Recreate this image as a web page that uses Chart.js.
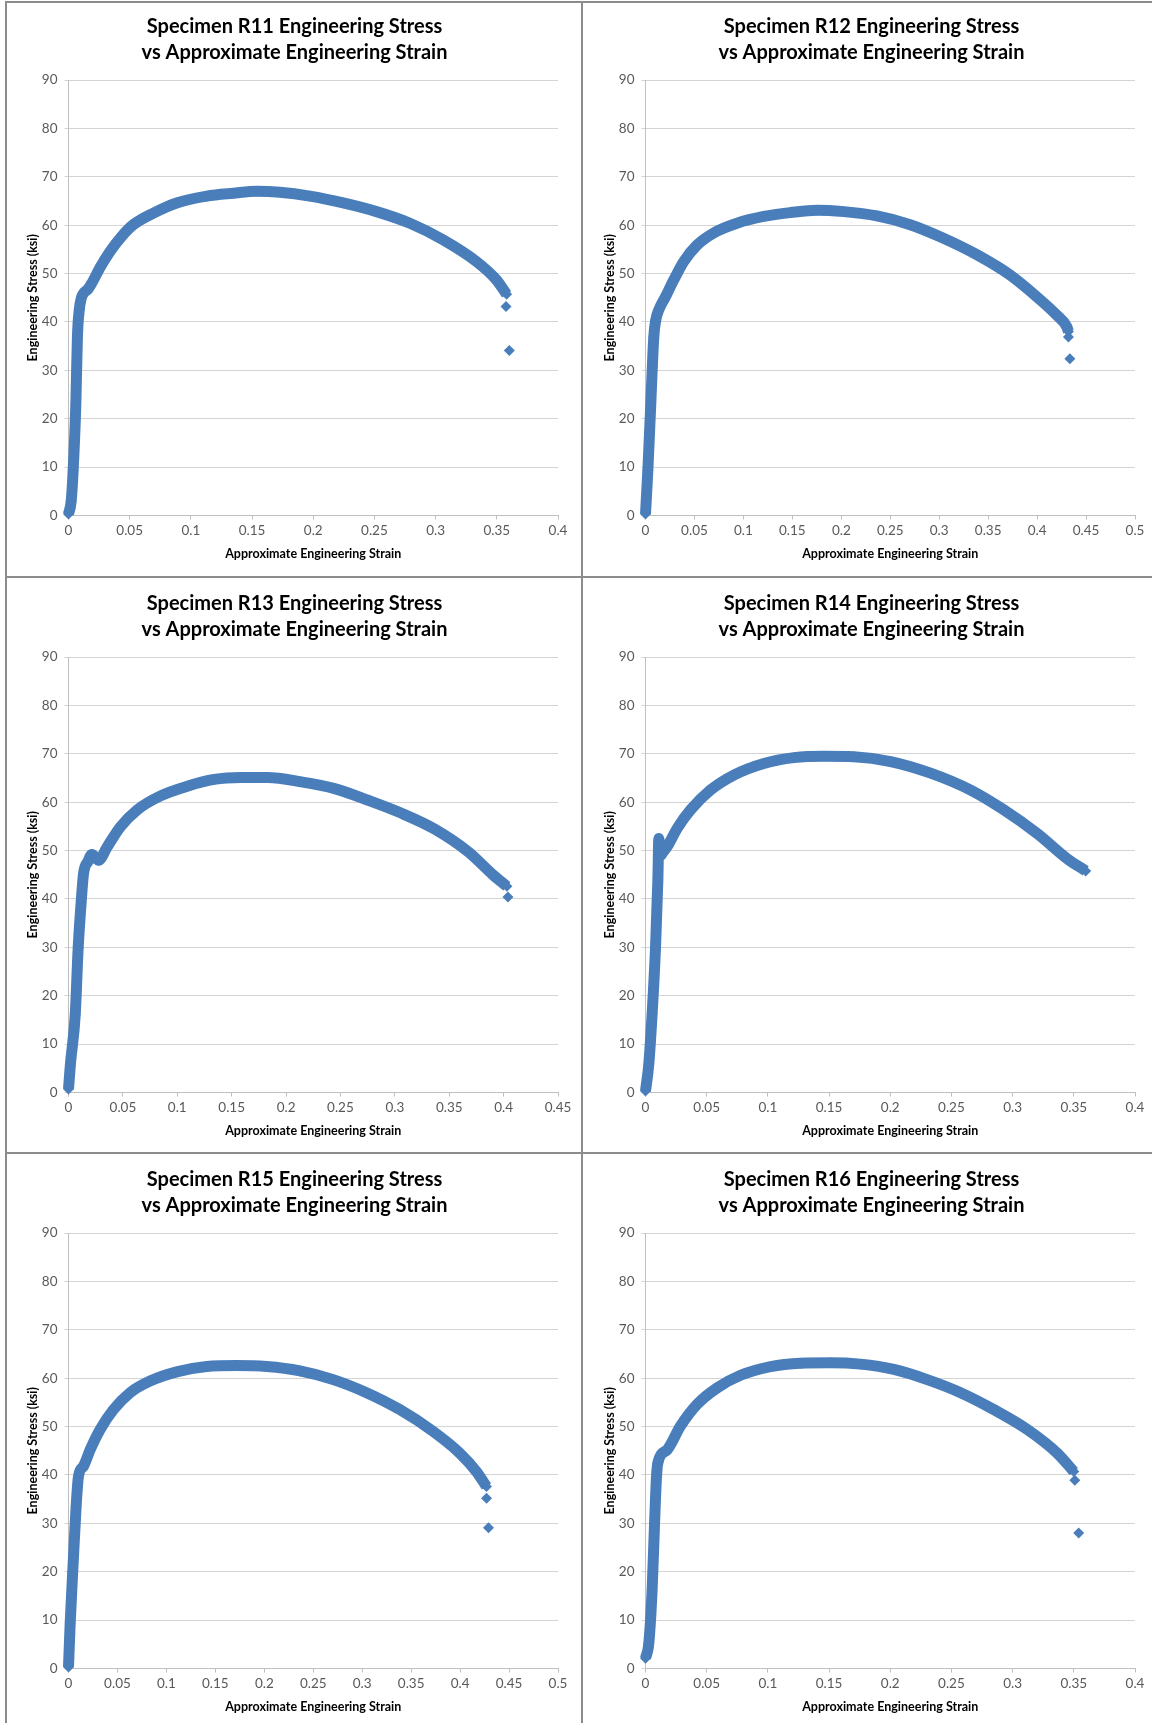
<!DOCTYPE html>
<html>
<head>
<meta charset="utf-8">
<script src="https://cdn.jsdelivr.net/npm/chart.js@4.4.1/dist/chart.umd.min.js"></script>
<style>
  html, body { margin: 0; padding: 0; background: #fff; }
  body { width: 1152px; height: 1723px; position: relative; overflow: hidden; }
  .rule { position: absolute; background: #8c8c8c; }
  canvas { position: absolute; }
</style>
</head>
<body>
<div class="rule" style="left:5px;top:1px;width:2px;height:1722px"></div>
<div class="rule" style="left:5px;top:1px;width:1147px;height:2px"></div>
<div class="rule" style="left:581px;top:1px;width:2px;height:1722px"></div>
<div class="rule" style="left:5px;top:576px;width:1147px;height:2px"></div>
<div class="rule" style="left:5px;top:1152px;width:1147px;height:2px"></div>

<canvas id="r11" width="575" height="574" style="left:7px;top:2px"></canvas>
<canvas id="r12" width="575" height="574" style="left:584px;top:2px"></canvas>
<canvas id="r13" width="575" height="574" style="left:7px;top:579px"></canvas>
<canvas id="r14" width="575" height="574" style="left:584px;top:579px"></canvas>
<canvas id="r15" width="575" height="574" style="left:7px;top:1155px"></canvas>
<canvas id="r16" width="575" height="574" style="left:584px;top:1155px"></canvas>

<script>
// tick labels
const stressTicks = [0, 10, 20, 30, 40, 50, 60, 70, 80, 90];
const strainTicks40 = [0, 0.05, 0.1, 0.15, 0.2, 0.25, 0.3, 0.35, 0.4];
const strainTicks45 = [0, 0.05, 0.1, 0.15, 0.2, 0.25, 0.3, 0.35, 0.4, 0.45];
const strainTicks50 = [0, 0.05, 0.1, 0.15, 0.2, 0.25, 0.3, 0.35, 0.4, 0.45, 0.5];

// R11
const r11Strain = [0, 0.0022, 0.0038, 0.006, 0.0073, 0.0088, 0.0105, 0.0125, 0.016, 0.019, 0.0259, 0.034, 0.0435, 0.053, 0.0694, 0.0884, 0.113, 0.1347, 0.154, 0.1728, 0.1973, 0.2245, 0.2517, 0.279, 0.306, 0.3333, 0.3497, 0.358];
const r11Stress = [0.3, 3.0, 9.3, 23.0, 37.0, 42.5, 45.0, 46.0, 46.8, 48.0, 51.3, 54.6, 57.7, 60.1, 62.5, 64.6, 66.0, 66.6, 67.0, 66.8, 66.0, 64.6, 62.8, 60.4, 57.0, 52.5, 48.7, 45.7];
const r11TailStrain = [0.3575, 0.3602];
const r11TailStress = [43.2, 34.1];

// R12
const r12Strain = [0, 0.0024, 0.0054, 0.0085, 0.0105, 0.0136, 0.0204, 0.0289, 0.0391, 0.0527, 0.0697, 0.0935, 0.1207, 0.148, 0.1752, 0.2024, 0.2364, 0.2704, 0.3044, 0.3384, 0.3724, 0.3997, 0.4201, 0.4303, 0.432];
const r12Stress = [0.3, 9.3, 23.1, 37.0, 40.4, 42.5, 45.2, 48.7, 52.5, 55.9, 58.4, 60.4, 61.8, 62.6, 63.1, 62.8, 61.9, 60.1, 57.3, 53.9, 49.7, 45.2, 41.4, 39.0, 38.0];
const r12TailStrain = [0.432, 0.4335];
const r12TailStress = [36.9, 32.4];

// R13
const r13Strain = [0, 0.0017, 0.0062, 0.0089, 0.012, 0.0138, 0.018, 0.0215, 0.0277, 0.0354, 0.0477, 0.0631, 0.0846, 0.1092, 0.1338, 0.1585, 0.1831, 0.2138, 0.2446, 0.2754, 0.3062, 0.3369, 0.3677, 0.3892, 0.403];
const r13Stress = [0.7, 5.7, 16.1, 29.9, 40.4, 45.2, 47.8, 49.2, 48.0, 50.7, 54.9, 58.4, 61.3, 63.3, 64.7, 65.1, 65.1, 64.2, 62.8, 60.4, 57.7, 54.4, 49.7, 45.2, 42.6];
const r13TailStrain = [0.404];
const r13TailStress = [40.4];

// R14
const r14Strain = [0, 0.0027, 0.0054, 0.0082, 0.0101, 0.0109, 0.0125, 0.0136, 0.0177, 0.0259, 0.0368, 0.0531, 0.0722, 0.0967, 0.1213, 0.1458, 0.1703, 0.2003, 0.233, 0.2657, 0.2929, 0.3202, 0.3447, 0.3597];
const r14Stress = [0.3, 5.9, 16.2, 30.0, 43.9, 52.5, 49.0, 49.4, 50.8, 54.6, 58.4, 62.5, 65.6, 68.0, 69.2, 69.5, 69.4, 68.4, 66.0, 62.5, 58.4, 53.5, 48.3, 45.8];
const r14TailStrain = [];
const r14TailStress = [];

// R15
const r15Strain = [0, 0.0017, 0.0051, 0.0078, 0.0102, 0.0153, 0.0221, 0.0323, 0.0459, 0.0629, 0.0833, 0.1105, 0.1412, 0.1718, 0.2024, 0.2364, 0.2704, 0.3044, 0.3384, 0.3724, 0.3997, 0.4167, 0.4269];
const r15Stress = [0.3, 9.3, 23.1, 33.5, 39.7, 41.8, 45.2, 49.4, 53.5, 57.0, 59.4, 61.3, 62.4, 62.6, 62.4, 61.5, 59.7, 57.0, 53.5, 49.0, 44.5, 40.7, 37.6];
const r15TailStrain = [0.427, 0.429];
const r15TailStress = [35.2, 29.1];

// R16
const r16Strain = [0, 0.0027, 0.0054, 0.0074, 0.009, 0.0101, 0.0177, 0.0286, 0.0422, 0.0586, 0.0777, 0.1022, 0.1267, 0.1512, 0.1757, 0.203, 0.2302, 0.2575, 0.2847, 0.312, 0.3365, 0.35];
const r16Stress = [2.1, 5.2, 16.2, 30.0, 39.7, 42.5, 45.2, 50.1, 54.6, 58.0, 60.6, 62.4, 63.1, 63.2, 62.9, 61.8, 59.7, 57.0, 53.5, 49.4, 44.5, 40.7];
const r16TailStrain = [0.3508, 0.354];
const r16TailStress = [38.9, 28.0];

const blue = "#4a7ebb";
const tickGrey = "#595959";
const fontFamily = "Lato, 'Open Sans', sans-serif";

const toPoints = (xs, ys) => xs.map((x, i) => ({ x, y: ys[i] }));

const buildChart = (id, title, strain, stress, tailStrain, tailStress, xTicks) => {
  const ctx = document.getElementById(id).getContext("2d");

  return new Chart(ctx, {
    type: "scatter",
    data: {
      datasets: [
        {
          data: toPoints(strain, stress),
          showLine: true,
          borderColor: blue,
          borderWidth: 11,
          cubicInterpolationMode: "monotone",
          pointStyle: "rectRot",
          pointRadius: 5.5,
          pointBackgroundColor: blue,
          pointBorderWidth: 0,
          clip: false
        },
        {
          data: toPoints(tailStrain, tailStress),
          showLine: false,
          pointStyle: "rectRot",
          pointRadius: 5.5,
          pointBackgroundColor: blue,
          pointBorderColor: blue,
          pointBorderWidth: 0,
          clip: false
        }
      ]
    },
    options: {
      responsive: false,
      animation: false,
      events: [],
      // equal side padding keeps the title centred on the panel
      layout: { padding: { left: 12, right: 12, top: 0, bottom: 0 } },
      plugins: {
        legend: { display: false },
        tooltip: { enabled: false },
        title: {
          display: true,
          text: [title, "vs Approximate Engineering Strain"],
          color: "#000",
          font: { family: fontFamily, size: 20, weight: "bold", lineHeight: "26px" },
          padding: { top: 12, bottom: 14 }
        }
      },
      scales: {
        x: {
          type: "linear",
          min: 0,
          max: xTicks[xTicks.length - 1],
          afterBuildTicks: (scale) => {
            scale.ticks = xTicks.map((value) => ({ value }));
          },
          afterFit: (scale) => {
            scale.height = 60.5;
          },
          ticks: {
            color: tickGrey,
            font: { family: fontFamily, size: 13.5 },
            padding: 3,
            autoSkip: false,
            maxRotation: 0,
            callback: (value) => String(value)
          },
          grid: { drawOnChartArea: false, drawTicks: true, tickLength: 4, color: "#bfbfbf" },
          border: { color: "#bfbfbf" },
          title: {
            display: true,
            text: "Approximate Engineering Strain",
            color: "#000",
            font: { family: fontFamily, size: 12.5, weight: "bold" },
            padding: { top: 0, bottom: 15 }
          }
        },
        y: {
          type: "linear",
          min: 0,
          max: 90,
          afterBuildTicks: (scale) => {
            scale.ticks = stressTicks.map((value) => ({ value }));
          },
          afterFit: (scale) => {
            scale.width = 49.5;
          },
          ticks: {
            color: tickGrey,
            font: { family: fontFamily, size: 13.5 },
            padding: 7
          },
          grid: { color: "#d4d4d4", tickLength: 4 },
          border: { color: "#bfbfbf" },
          title: {
            display: true,
            text: "Engineering Stress (ksi)",
            color: "#000",
            font: { family: fontFamily, size: 12.5, weight: "bold" },
            padding: { top: 6, bottom: 0 }
          }
        },
        // empty right-hand axis, only reserves the right margin of the plot
        spacer: {
          type: "linear",
          position: "right",
          min: 0,
          max: 90,
          afterFit: (scale) => {
            scale.width = 12;
          },
          ticks: { display: false },
          grid: { display: false },
          border: { display: false }
        }
      }
    }
  });
};

buildChart("r11", "Specimen R11 Engineering Stress", r11Strain, r11Stress, r11TailStrain, r11TailStress, strainTicks40);
buildChart("r12", "Specimen R12 Engineering Stress", r12Strain, r12Stress, r12TailStrain, r12TailStress, strainTicks50);
buildChart("r13", "Specimen R13 Engineering Stress", r13Strain, r13Stress, r13TailStrain, r13TailStress, strainTicks45);
buildChart("r14", "Specimen R14 Engineering Stress", r14Strain, r14Stress, r14TailStrain, r14TailStress, strainTicks40);
buildChart("r15", "Specimen R15 Engineering Stress", r15Strain, r15Stress, r15TailStrain, r15TailStress, strainTicks50);
buildChart("r16", "Specimen R16 Engineering Stress", r16Strain, r16Stress, r16TailStrain, r16TailStress, strainTicks40);
</script>
</body>
</html>
